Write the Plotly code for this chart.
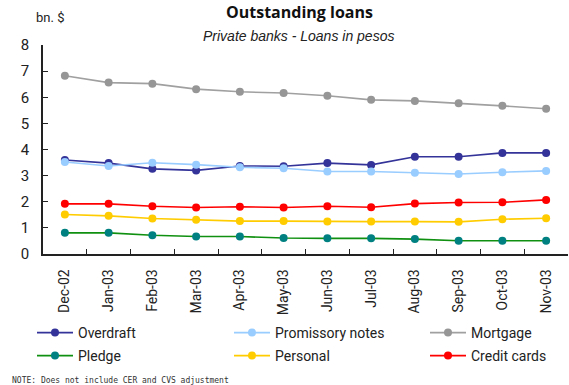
import plotly.graph_objects as go

months = ["Dec-02", "Jan-03", "Feb-03", "Mar-03", "Apr-03", "May-03",
          "Jun-03", "Jul-03", "Aug-03", "Sep-03", "Oct-03", "Nov-03"]

overdraft = [3.60, 3.48, 3.26, 3.20, 3.37, 3.36, 3.48, 3.41, 3.72, 3.72, 3.87, 3.87]
promissory = [3.52, 3.37, 3.49, 3.42, 3.32, 3.28, 3.16, 3.16, 3.11, 3.06, 3.13, 3.18]
mortgage = [6.82, 6.56, 6.52, 6.31, 6.21, 6.16, 6.06, 5.90, 5.86, 5.77, 5.67, 5.56]
pledge = [0.81, 0.81, 0.72, 0.67, 0.67, 0.61, 0.60, 0.60, 0.57, 0.51, 0.51, 0.51]
personal = [1.51, 1.46, 1.36, 1.31, 1.26, 1.26, 1.24, 1.24, 1.24, 1.23, 1.33, 1.37]
credit_cards = [1.92, 1.92, 1.83, 1.78, 1.81, 1.78, 1.83, 1.79, 1.93, 1.97, 1.98, 2.07]

# name, values, line colour, marker colour, legend slot (column, row)
series = [
    ("Overdraft", overdraft, "#333399", "#333399", (0, 0)),
    ("Promissory notes", promissory, "#99CCFF", "#99CCFF", (1, 0)),
    ("Mortgage", mortgage, "#A0A0A0", "#969696", (2, 0)),
    ("Pledge", pledge, "#109010", "#008080", (0, 1)),
    ("Personal", personal, "#FFCC00", "#FFCC00", (1, 1)),
    ("Credit cards", credit_cards, "#FF0000", "#FF0000", (2, 1)),
]

W, H = 569, 385
ML, MR, MT, MB = 43, 1, 45, 131
FONT = "Roboto, Arial, sans-serif"
TXT = "#222222"

legend_cols = [32, 229, 425]   # left edge of each legend column, px
legend_rows = [333, 356]       # vertical centre of each legend row, px

fig = go.Figure()
layout_legends = {}
for i, (name, vals, line_col, marker_col, (col, row)) in enumerate(series):
    key = "legend" if i == 0 else f"legend{i + 1}"
    fig.add_trace(go.Scatter(
        x=months, y=vals, name=name, mode="lines+markers",
        line=dict(color=line_col, width=1.6),
        marker=dict(color=marker_col, size=8),
        legend=key,
    ))
    layout_legends[key] = dict(
        xref="container", yref="container",
        x=legend_cols[col] / W, y=1 - legend_rows[row] / H,
        xanchor="left", yanchor="middle",
        bgcolor="rgba(0,0,0,0)", borderwidth=0,
        font=dict(family=FONT, size=14, color=TXT),
        itemwidth=36,
    )


def px_to_paper(px, py):
    return (px - ML) / (W - ML - MR), 1 - (py - MT) / (H - MT - MB)


def label(text, px, py, size, family=FONT, anchor="center", color=TXT):
    x, y = px_to_paper(px, py)
    return dict(text=text, x=x, y=y, xref="paper", yref="paper", showarrow=False,
                xanchor=anchor, yanchor="middle",
                font=dict(family=family, size=size, color=color))


fig.update_layout(
    width=W, height=H,
    margin=dict(l=ML, r=MR, t=MT, b=MB, autoexpand=False),
    paper_bgcolor="white", plot_bgcolor="white",
    font=dict(family=FONT, size=14, color=TXT),
    showlegend=True,
    **layout_legends,
    xaxis=dict(
        type="category", range=[-0.5, 11.5],
        showline=True, linecolor=TXT, linewidth=1.5,
        ticks="inside", ticklen=5, tickcolor=TXT, tickson="boundaries",
        tickangle=-90, ticklabelstandoff=8,
        tickfont=dict(family=FONT, size=14, color=TXT),
        showgrid=False, zeroline=False, fixedrange=True, automargin=False,
    ),
    yaxis=dict(
        range=[0, 8], dtick=1,
        showline=True, linecolor=TXT, linewidth=1.5,
        ticks="inside", ticklen=5, tickcolor=TXT,
        tickfont=dict(family=FONT, size=15, color=TXT),
        ticklabelstandoff=9,
        showgrid=False, zeroline=False, fixedrange=True, automargin=False,
    ),
    annotations=[
        label("<b>Outstanding loans</b>", 299, 12, 16, family="Open Sans, sans-serif",
              color="#111111"),
        label("<i>Private banks - Loans in pesos</i>", 298, 36, 14,
              family="Liberation Sans, Arial, sans-serif"),
        label("bn. $", 50, 18, 13),
        label("NOTE: Does not include CER and CVS adjustment", 10, 380, 8,
              family="DejaVu Sans Mono, monospace", anchor="left", color="#333333"),
    ],
)

fig.write_html("out.html")
